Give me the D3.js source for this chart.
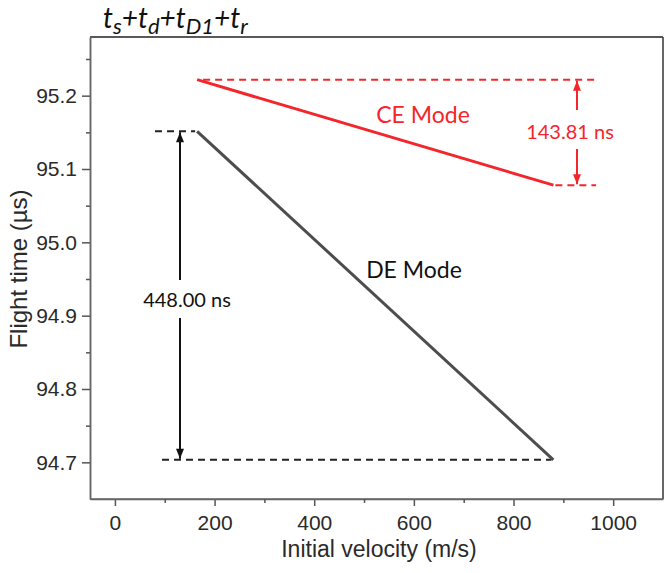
<!DOCTYPE html>
<html><head><meta charset="utf-8">
<script src="https://cdn.jsdelivr.net/npm/d3@7"></script>
<style>body{margin:0;background:#fff}svg{display:block}</style>
</head><body>
<script>
// Data
const velocity = [165, 880];
const ceMode = [95.2218, 95.0780];
const deMode = [95.1514, 94.7034];
const xTicks = [0, 200, 400, 600, 800, 1000];
const xMinor = [100, 300, 500, 700, 900];
const yTicks = [94.7, 94.8, 94.9, 95.0, 95.1, 95.2];
const yMinor = [94.75, 94.85, 94.95, 95.05, 95.15, 95.25];
const ceLabel = "143.81 ns";
const deLabel = "448.00 ns";
const titleParts = [["t", 0], ["s", 1], ["+t", 0], ["d", 1], ["+t", 0], ["D1", 1], ["+t", 0], ["r", 1]];

const W = 666, H = 573;
const m = {l: 90, t: 37, r: 3, b: 74};
const svg = d3.select("body").append("svg").attr("width", W).attr("height", H);
const x = d3.scaleLinear().domain([-50, 1100]).range([m.l, W - m.r]);
const y = d3.scaleLinear().domain([94.65, 95.28]).range([H - m.b, m.t]);

const red = "#f4262b", gray = "#4d4d4d";
const tickFont = "'Liberation Sans', Arial, sans-serif";
const annFont = "Lato, 'Open Sans', sans-serif";

// frame top/right
svg.append("line").attr("x1", x(-50)).attr("x2", x(1100)).attr("y1", y(95.28)).attr("y2", y(95.28)).attr("stroke", "#222").attr("stroke-width", 1.5);
svg.append("line").attr("x1", x(1100)).attr("x2", x(1100)).attr("y1", y(95.28)).attr("y2", y(94.65)).attr("stroke", "#333").attr("stroke-width", 1.5);

// axes
const gx = svg.append("g").attr("transform", `translate(0,${y(94.65)})`)
  .call(d3.axisBottom(x).tickValues(xTicks).tickFormat(d3.format("d")).tickSize(7).tickSizeOuter(0).tickPadding(9));
const gxm = svg.append("g").attr("transform", `translate(0,${y(94.65)})`)
  .call(d3.axisBottom(x).tickValues(xMinor).tickFormat("").tickSize(4).tickSizeOuter(0));
const gy = svg.append("g").attr("transform", `translate(${x(-50)},0)`)
  .call(d3.axisLeft(y).tickValues(yTicks).tickFormat(d3.format(".1f")).tickSize(8).tickSizeOuter(0).tickPadding(5));
const gym = svg.append("g").attr("transform", `translate(${x(-50)},0)`)
  .call(d3.axisLeft(y).tickValues(yMinor).tickFormat("").tickSize(4).tickSizeOuter(0));
[gx, gxm, gy, gym].forEach(g => {
  g.selectAll("path").attr("stroke", "#666").attr("stroke-width", 1.5);
  g.selectAll("line").attr("stroke", "#555").attr("stroke-width", 1.5);
  g.selectAll("text").attr("font-family", tickFont).attr("font-size", 21).attr("fill", "#2a2a2a");
});
gx.select("path.domain").attr("d", `M${x(-50)},0H${x(1100)}`);

// axis titles
svg.append("text").attr("x", 379).attr("y", 557)
  .attr("text-anchor", "middle").attr("font-family", tickFont).attr("font-size", 23).attr("fill", "#2a2a2a")
  .text("Initial velocity (m/s)");
svg.append("text").attr("transform", `translate(27,269) rotate(-90)`)
  .attr("text-anchor", "middle").attr("font-family", tickFont).attr("font-size", 24).attr("fill", "#2a2a2a")
  .text("Flight time (\u00b5s)");

// title (separate text pieces so subscripts sit correctly)
let tx = 103;
titleParts.forEach(([t, sub]) => {
  const el = svg.append("text").attr("x", tx).attr("y", sub ? 34 : 28).attr("font-family", annFont)
    .attr("font-style", "italic").attr("font-size", sub ? 22 : 28).attr("fill", "#111").text(t);
  tx += el.node().getComputedTextLength();
});

// dashed reference lines
const dash = "7,5";
function hdash(x1, x2, v, col) {
  svg.append("line").attr("x1", x1).attr("x2", x2).attr("y1", y(v)).attr("y2", y(v))
    .attr("stroke", col).attr("stroke-width", 2).attr("stroke-dasharray", dash);
}
hdash(x(velocity[0]) + 6, 596, ceMode[0], red);
hdash(x(velocity[1]) + 2, 596, ceMode[1], red);
hdash(155, x(velocity[0]) - 2, deMode[0], "#222");
hdash(162, x(velocity[1]) - 2, deMode[1], "#222");

// lines
const line = d3.line().x((d, i) => x(velocity[i])).y(d => y(d));
svg.append("path").attr("d", line(ceMode)).attr("fill", "none").attr("stroke", red).attr("stroke-width", 3);
svg.append("path").attr("d", line(deMode)).attr("fill", "none").attr("stroke", gray).attr("stroke-width", 3);

// arrows
function arrow(ax, yFrom, yTo, col) {
  svg.append("line").attr("x1", ax).attr("x2", ax).attr("y1", yFrom).attr("y2", yTo).attr("stroke", col).attr("stroke-width", 2);
  const dir = yTo > yFrom ? 1 : -1;
  svg.append("path").attr("d", `M${ax},${yTo}L${ax - 4},${yTo - dir * 10}L${ax + 4},${yTo - dir * 10}Z`).attr("fill", col);
}
arrow(577, 110, y(ceMode[0]) + 1, red);
arrow(577, 149, y(ceMode[1]) - 1, red);
arrow(180, 280, y(deMode[0]) + 1, "#111");
arrow(180, 318, y(deMode[1]) - 1, "#111");

// annotation texts
svg.append("text").attr("x", 570).attr("y", 139).attr("text-anchor", "middle").attr("font-family", annFont)
  .attr("font-size", 20).attr("fill", red).text(ceLabel);
svg.append("text").attr("x", 187).attr("y", 307).attr("text-anchor", "middle").attr("font-family", annFont)
  .attr("font-size", 20).attr("fill", "#111").text(deLabel);
svg.append("text").attr("x", 423).attr("y", 123).attr("text-anchor", "middle").attr("font-family", annFont)
  .attr("font-size", 23).attr("fill", red).text("CE Mode");
svg.append("text").attr("x", 414).attr("y", 278).attr("text-anchor", "middle").attr("font-family", annFont)
  .attr("font-size", 23).attr("fill", "#111").text("DE Mode");
</script>
</body></html>
